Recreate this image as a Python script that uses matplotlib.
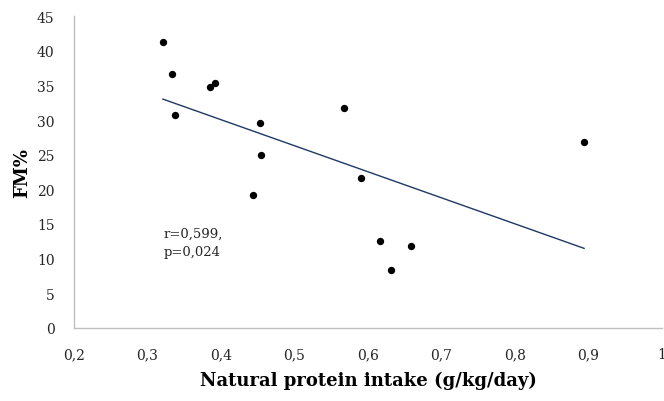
import numpy as np
import matplotlib
matplotlib.use("Agg")
import matplotlib.pyplot as plt

plt.rcParams['font.family'] = ['DejaVu Serif']

protein = [0.321, 0.333, 0.338, 0.3855, 0.392, 0.4526, 0.455, 0.443,
           0.567, 0.894, 0.590, 0.616, 0.659, 0.631]
fm = [41.2, 36.6, 30.7, 34.8, 35.4, 29.5, 24.9, 19.2,
      31.8, 26.8, 21.6, 12.55, 11.8, 8.3]
xticks = [0.2, 0.3, 0.4, 0.5, 0.6, 0.7, 0.8, 0.9, 1.0]
xticklabels = ['0,2', '0,3', '0,4', '0,5', '0,6', '0,7', '0,8', '0,9', '1']
yticks = [0, 5, 10, 15, 20, 25, 30, 35, 40, 45]

fig = plt.figure(figsize=(6.64, 4.02), dpi=100)
ax = fig.add_axes([0.1114, 0.1816, 0.8856, 0.7761])

x = np.array(protein)
y = np.array(fm)
slope, intercept = np.polyfit(x, y, 1)
xl = np.array([x.min(), x.max()])
ax.plot(xl, slope * xl + intercept, color='#1f3864', lw=1.0, zorder=2)
ax.scatter(x, y, s=28, color='black', zorder=3, linewidths=0)

ax.set_xlim(0.2, 1.0)
ax.set_ylim(0, 45)
ax.set_xticks(xticks)
ax.set_xticklabels(xticklabels)
ax.set_yticks(yticks)
for s in ['top', 'right']:
    ax.spines[s].set_visible(False)
for s in ['left', 'bottom']:
    ax.spines[s].set_color('#bfbfbf')
    ax.spines[s].set_linewidth(1.0)
ax.tick_params(length=0, labelsize=10, colors='#262626')
ax.tick_params(axis='y', pad=14)
ax.tick_params(axis='x', pad=14)

ax.set_xlabel('Natural protein intake (g/kg/day)', fontsize=13, fontweight='bold', labelpad=7)
ax.set_ylabel('FM%', fontsize=13, fontweight='bold', labelpad=4)

ax.text(0.3215, 14.6, 'r=0,599,\np=0,024', fontsize=9.5, va='top', ha='left',
        color='#262626', linespacing=1.5)

fig.savefig('out.png', dpi=100)
